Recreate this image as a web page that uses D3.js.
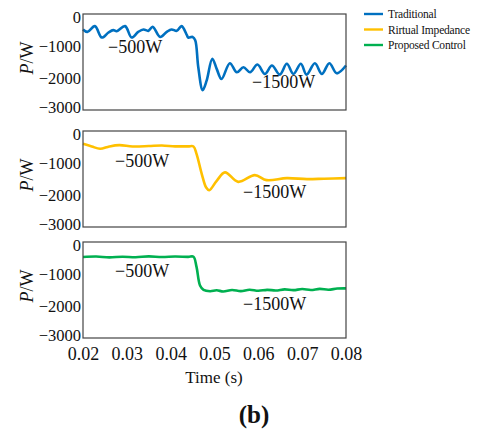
<!DOCTYPE html>
<html><head><meta charset="utf-8">
<script src="https://cdn.jsdelivr.net/npm/d3@7"></script>
<style>body{margin:0;background:#fff}svg{display:block}</style>
</head><body>
<svg id="c" width="480" height="432"></svg>
<script>
// ---- data ----
const xTicks = [0.02, 0.03, 0.04, 0.05, 0.06, 0.07, 0.08];
const yTicks = [0, -1000, -2000, -3000];
const seriesNames = ["Traditional", "Rirtual Impedance", "Proposed Control"];
const seriesColors = ["#0070C0", "#FFC000", "#00B050"];

const tradT = [0.0200,0.0210,0.0227,0.0243,0.0258,0.0269,0.0277,0.0296,0.0311,0.0326,0.0338,0.0349,0.0359,0.0376,0.0391,0.0402,0.0414,0.0425,0.0437,0.0440,0.0450,0.0456,0.0463,0.0473,0.0482,0.0495,0.0505,0.0516,0.0535,0.0551,0.0566,0.0581,0.0598,0.0615,0.0631,0.0649,0.0665,0.0680,0.0697,0.0710,0.0729,0.0745,0.0762,0.0779,0.0800];
const tradP = [-483,-559,-379,-736,-578,-505,-537,-379,-736,-559,-483,-527,-401,-717,-559,-483,-527,-379,-663,-736,-717,-821,-1664,-2378,-2084,-1399,-1715,-2031,-1538,-1822,-1664,-1822,-1579,-1873,-1611,-1895,-1557,-1873,-1557,-1895,-1538,-1873,-1538,-1854,-1611];

const rirtT = [0.0200,0.0220,0.0239,0.0260,0.0283,0.0313,0.0350,0.0380,0.0410,0.0440,0.0452,0.0459,0.0471,0.0481,0.0488,0.0505,0.0524,0.0554,0.0592,0.0619,0.0665,0.0711,0.0750,0.0800];
const rirtP = [-398,-483,-556,-483,-442,-483,-470,-452,-480,-480,-483,-714,-1345,-1768,-1851,-1557,-1294,-1589,-1378,-1535,-1472,-1503,-1490,-1472];

const propT = [0.0200,0.0230,0.0260,0.0290,0.0320,0.0350,0.0380,0.0410,0.0440,0.0452,0.0459,0.0467,0.0475,0.0490,0.0505,0.0520,0.0540,0.0560,0.0580,0.0600,0.0620,0.0640,0.0660,0.0680,0.0700,0.0720,0.0740,0.0760,0.0780,0.0800];
const propP = [-470,-455,-480,-460,-475,-450,-470,-455,-465,-460,-779,-1358,-1495,-1537,-1510,-1545,-1500,-1535,-1490,-1525,-1495,-1515,-1480,-1505,-1470,-1500,-1465,-1490,-1455,-1450];

const annoLow = "−500W", annoHigh = "−1500W";

// ---- drawing ----
const svg = d3.select("#c");
const FONT = "'Liberation Serif','Times New Roman',serif";
const x = d3.scaleLinear().domain([0.02, 0.08]).range([83, 346]);
const panels = [
  {top: 14, t: tradT, p: tradP, lo: [108, 53], hi: [252, 88]},
  {top: 131, t: rirtT, p: rirtP, lo: [115, 167], hi: [243, 198]},
  {top: 242, t: propT, p: propP, lo: [115, 277], hi: [243, 310]}
];
const H = 96;

panels.forEach((pn, i) => {
  const y = d3.scaleLinear().domain([-3000, 0]).range([pn.top + H, pn.top]);
  const g = svg.append("g");
  const data = pn.t.map((t, k) => [t, pn.p[k]]);
  g.append("path").datum(data)
    .attr("fill", "none").attr("stroke", seriesColors[i]).attr("stroke-width", 2.6)
    .attr("stroke-linejoin", "round")
    .attr("d", d3.line().x(d => x(d[0])).y(d => y(d[1])).curve(d3.curveCatmullRom.alpha(0.5)));
  g.append("rect").attr("x", x(0.02)).attr("y", pn.top).attr("width", x(0.08) - x(0.02)).attr("height", H)
    .attr("fill", "none").attr("stroke", "#444").attr("stroke-width", 1.2);
  const ya = g.append("g").attr("transform", `translate(${x(0.02)},0)`)
    .call(d3.axisLeft(y).tickValues(yTicks).tickSize(0).tickPadding(2).tickFormat(d => d === 0 ? "0" : "−" + Math.abs(d)));
  ya.select(".domain").remove();
  ya.selectAll("text").attr("font-family", FONT).attr("font-size", 16.5).attr("fill", "#111")
    .attr("dy", d => d === 0 ? "0.52em" : d === -3000 ? "0.18em" : "0.32em");
  const yl = g.append("text").attr("transform", `translate(33,${pn.top + H / 2 - 4}) rotate(-90)`)
    .attr("text-anchor", "middle").attr("font-family", FONT).attr("font-size", 18).attr("fill", "#111");
  yl.append("tspan").attr("font-style", "italic").text("P");
  yl.append("tspan").text("/W");
  g.append("text").attr("x", pn.lo[0]).attr("y", pn.lo[1]).attr("font-family", FONT).attr("font-size", 18).attr("fill", "#111").text(annoLow);
  g.append("text").attr("x", pn.hi[0]).attr("y", pn.hi[1]).attr("font-family", FONT).attr("font-size", 18).attr("fill", "#111").text(annoHigh);
  if (i === 2) {
    const xa = g.append("g").attr("transform", `translate(0,${pn.top + H})`)
      .call(d3.axisBottom(x).tickValues(xTicks).tickSize(0).tickPadding(9).tickFormat(d3.format(".2f")));
    xa.select(".domain").remove();
    xa.selectAll("text").attr("font-family", FONT).attr("font-size", 18).attr("fill", "#111");
  }
});

svg.append("text").attr("x", 214).attr("y", 383).attr("text-anchor", "middle")
  .attr("font-family", FONT).attr("font-size", 17).attr("fill", "#111").text("Time (s)");
svg.append("text").attr("x", 254).attr("y", 423).attr("text-anchor", "middle")
  .attr("font-family", FONT).attr("font-size", 25).attr("font-weight", "bold").attr("fill", "#111").text("(b)");

const lg = svg.append("g");
seriesNames.forEach((n, i) => {
  const yy = 14 + i * 15.5;
  lg.append("line").attr("x1", 364).attr("x2", 383).attr("y1", yy).attr("y2", yy)
    .attr("stroke", seriesColors[i]).attr("stroke-width", 2.4);
  lg.append("text").attr("x", 388).attr("y", yy + 4).attr("font-family", FONT).attr("font-size", 11.5)
    .attr("letter-spacing", -0.2).attr("fill", "#111").text(n);
});
</script>
</body></html>
